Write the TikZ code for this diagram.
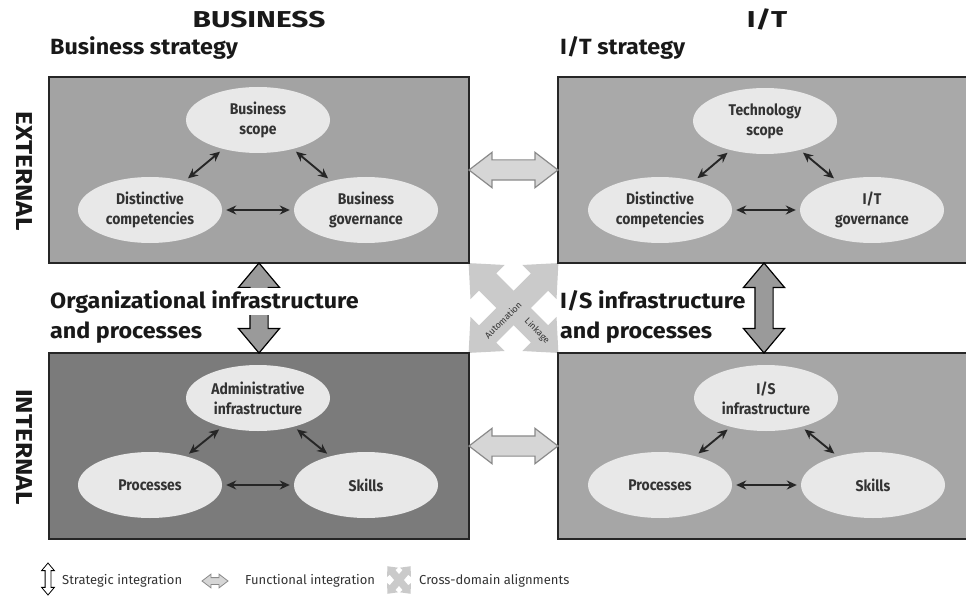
\documentclass[tikz,border=0pt]{standalone}
\usepackage{fontspec}
\setmainfont{Fira Sans}
\newfontfamily\titlefont[FakeStretch=1.3]{Fira Sans}
\newfontfamily\headfont[FakeStretch=1.14]{Fira Sans}
\newfontfamily\rowfont[FakeStretch=1.06]{Fira Sans}
\newfontfamily\ovalfont[FakeStretch=0.9]{Fira Sans}
\usepackage{xcolor}
\usepackage{tikz}
\usetikzlibrary{shapes.geometric, shapes.arrows, arrows.meta, positioning, calc}
\definecolor{ink}{HTML}{333333}
\definecolor{extbiz}{HTML}{A3A3A3}
\definecolor{extit}{HTML}{A9A9A9}
\definecolor{intbiz}{HTML}{7B7B7B}
\definecolor{intit}{HTML}{A6A6A6}
\definecolor{oval}{HTML}{E8E8E8}
\definecolor{stratgray}{HTML}{9A9A9A}
\definecolor{funcgray}{HTML}{D6D6D6}
\definecolor{funcedge}{HTML}{8A8A8A}
\definecolor{crossgray}{HTML}{CACACA}
\tikzset{
  quad/.style={rectangle, draw=black!85, line width=1.6pt, inner sep=0pt, minimum width=420pt, minimum height=186pt},
  topic/.style={ellipse, fill=oval, inner sep=0pt, minimum width=144pt, minimum height=66pt, align=center, font=\ovalfont\fontsize{15.5}{20}\selectfont\bfseries, text=ink},
  link/.style={{Stealth[length=10pt,width=9pt]}-{Stealth[length=10pt,width=9pt]}, line width=1.9pt, draw=black!85, shorten >=4pt, shorten <=4pt},
  colhead/.style={font=\titlefont\fontsize{23}{26}\selectfont\bfseries, text=black!90, inner sep=0pt},
  rowlabel/.style={font=\rowfont\fontsize{22}{24}\selectfont\bfseries, text=black!90, inner sep=0pt, anchor=base west},
  sidelabel/.style={font=\headfont\fontsize{23}{26}\selectfont\bfseries, text=black!90, rotate=-90, inner sep=0pt},
  strat/.style={double arrow, draw=black, line width=1.2pt, fill=stratgray, minimum height=90pt, minimum width=0pt, inner xsep=0pt, inner ysep=8.5pt, double arrow head extend=11.5pt, double arrow tip angle=80, rotate=90},
  func/.style={double arrow, draw=funcedge, line width=1.2pt, fill=funcgray, minimum height=89pt, minimum width=0pt, inner xsep=0pt, inner ysep=9.5pt, double arrow head extend=7.5pt, double arrow tip angle=75},
  crossarr/.style={double arrow, fill=crossgray, minimum height=127pt, minimum width=0pt, inner xsep=0pt, inner ysep=12pt, double arrow head extend=12pt, double arrow tip angle=84},
  tag/.style={font=\fontsize{9}{11}\selectfont, text=ink, inner sep=0pt},
  keytext/.style={font=\fontsize{13}{15}\selectfont, text=ink, anchor=west, inner sep=0pt},
}
\begin{document}
\begin{tikzpicture}[x=1pt, y=-1pt]
\useasboundingbox (0,0) rectangle (966,596);

% cross-domain alignment arrows go under the quadrants
\node[crossarr, rotate=-45] (linkage) at (513.5,308) {};
\node[crossarr, rotate=45] (automation) at (513.5,308) {};

% the four quadrants
\node[quad, fill=extbiz] (bstrat) at (259,170) {};
\node[quad, fill=extit, minimum width=412pt] (itstrat) at (764,170) {};
\node[quad, fill=intbiz] (orginf) at (259,446) {};
\node[quad, fill=intit, minimum width=412pt] (isinf) at (764,446) {};

% headings
\node[colhead, anchor=base] (bushead) at (259,28) {BUSINESS};
\node[colhead, anchor=base] (ithead) at (767,28) {I/T};
\node[rowlabel] (bslabel) at (50,55) {Business strategy};
\node[rowlabel] (itlabel) at (560,55) {I/T strategy};
\node[sidelabel] (extlabel) at (24,171) {EXTERNAL};
\node[sidelabel] (intlabel) at (24,447) {INTERNAL};

% business strategy
\node[topic] (bscope) at (258,120) {Business\\scope};
\node[topic] (bcomp) at (150,210) {Distinctive\\competencies};
\node[topic] (bgov) at (366,210) {Business\\governance};
\draw[link] (bcomp) -- (bscope);
\draw[link] (bscope) -- (bgov);
\draw[link] (bcomp) -- (bgov);

% I/T strategy
\node[topic] (tscope) at (765,121) {Technology\\scope};
\node[topic] (tcomp) at (660,210) {Distinctive\\competencies};
\node[topic] (tgov) at (872,210) {I/T\\governance};
\draw[link] (tcomp) -- (tscope);
\draw[link] (tscope) -- (tgov);
\draw[link] (tcomp) -- (tgov);

% organizational infrastructure
\node[topic] (oadmin) at (258,398) {Administrative\\infrastructure};
\node[topic] (oproc) at (150,485) {Processes};
\node[topic] (oskill) at (366,485) {Skills};
\draw[link] (oproc) -- (oadmin);
\draw[link] (oadmin) -- (oskill);
\draw[link] (oproc) -- (oskill);

% I/S infrastructure
\node[topic] (iinf) at (766,398) {I/S\\infrastructure};
\node[topic] (iproc) at (660,485) {Processes};
\node[topic] (iskill) at (873,485) {Skills};
\draw[link] (iproc) -- (iinf);
\draw[link] (iinf) -- (iskill);
\draw[link] (iproc) -- (iskill);

% strategic and functional integration
\node[strat] (bizfit) at ($(bstrat.south)!0.5!(orginf.north)$) {};
\node[strat] (itfit) at ($(itstrat.south)!0.5!(isinf.north)$) {};
\node[func] (bizit) at ($(bstrat.east)!0.5!(itstrat.west)$) {};
\node[func] (orgis) at ($(orginf.east)!0.5!(isinf.west)$) {};

\node[rowlabel, fill=white, inner sep=2pt] (orglabel) at (48,308) {Organizational infrastructure};
\node[rowlabel] (orglabel2) at (50,338) {and processes};
\node[rowlabel] (islabel) at (560,308) {I/S infrastructure};
\node[rowlabel] (islabel2) at (560,338) {and processes};

\node[tag, rotate=45] (autotag) at (503,320) {Automation};
\node[tag, rotate=-45] (linktag) at (537,331) {Linkage};

% legend
\node[strat, minimum height=32pt, inner ysep=2.5pt, double arrow head extend=3.5pt, line width=0.8pt, fill=white] (keystrat) at (48,579) {};
\node[keytext] (keystrattext) at (62,581) {Strategic integration};
\node[func, minimum height=26pt, inner ysep=3pt, double arrow head extend=3.5pt, line width=0.8pt] (keyfunc) at (215,581) {};
\node[keytext] (keyfunctext) at (245,581) {Functional integration};
\node[crossarr, rotate=50, minimum height=36pt, inner ysep=3.5pt, double arrow head extend=3.5pt] (keycross1) at (399,580) {};
\node[crossarr, rotate=-50, minimum height=36pt, inner ysep=3.5pt, double arrow head extend=3.5pt] (keycross2) at (399,580) {};
\node[keytext] (keycrosstext) at (419,581) {Cross-domain alignments};
\end{tikzpicture}
\end{document}
